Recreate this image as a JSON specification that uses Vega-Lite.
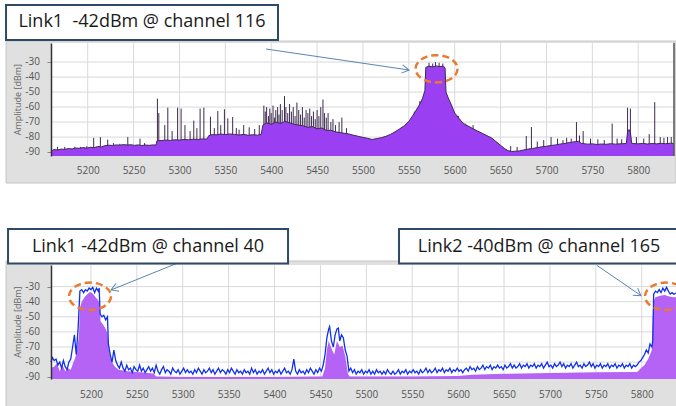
{
  "$schema": "https://vega.github.io/schema/vega-lite/v6.json",
  "background": "white",
  "padding": {"left": 5, "top": 4, "right": 0, "bottom": 0},
  "config": {"view": {"stroke": null}, "font": "Open Sans", "concat": {"spacing": 44}},
  "resolve": {"scale": {"x": "independent", "y": "independent"}},
  "datasets": {
    "xticks": [{"v":5200},{"v":5250},{"v":5300},{"v":5350},{"v":5400},{"v":5450},{"v":5500},{"v":5550},{"v":5600},{"v":5650},{"v":5700},{"v":5750},{"v":5800}],
    "yticks": [{"v":-30,"t":"-30"},{"v":-40,"t":"-40"},{"v":-50,"t":"-50"},{"v":-60,"t":"-60"},{"v":-70,"t":"-70"},{"v":-80,"t":"-80"},{"v":-90,"t":"-90"}],
    "topSpec": [
      {"f":5160,"a":-89.5},{"f":5163,"a":-88.3},{"f":5167,"a":-88.6},{"f":5171,"a":-88},{"f":5175,"a":-88.2},{"f":5179,"a":-87.6},{"f":5183,"a":-87.9},{"f":5187,"a":-87.3},{"f":5191,"a":-87.5},{"f":5195,"a":-87},{"f":5199,"a":-87.4},{"f":5203,"a":-86.8},{"f":5207,"a":-87},{"f":5211,"a":-86.3},{"f":5215,"a":-86.5},{"f":5219,"a":-85.7},{"f":5223,"a":-85.4},{"f":5227,"a":-85.6},{"f":5231,"a":-85.2},{"f":5235,"a":-85.4},{"f":5239,"a":-85},{"f":5243,"a":-85.3},{"f":5247,"a":-85.1},{"f":5251,"a":-85.5},{"f":5255,"a":-85.2},{"f":5259,"a":-85.6},{"f":5263,"a":-85.3},{"f":5267,"a":-85.5},{"f":5271,"a":-85.2},{"f":5274.5,"a":-85.3},
      {"f":5275.5,"a":-82.5},{"f":5280,"a":-82.3},{"f":5285,"a":-82},{"f":5290,"a":-82.2},{"f":5295,"a":-81.8},{"f":5300,"a":-82},{"f":5305,"a":-81.6},{"f":5310,"a":-81.8},{"f":5315,"a":-81.4},{"f":5320,"a":-81.6},{"f":5325,"a":-81.2},{"f":5330,"a":-81.3},
      {"f":5332,"a":-79},{"f":5336,"a":-78.3},{"f":5340,"a":-78.5},{"f":5345,"a":-78},{"f":5350,"a":-78.3},{"f":5355,"a":-77.9},{"f":5360,"a":-78.2},{"f":5365,"a":-78.6},{"f":5370,"a":-78.2},{"f":5375,"a":-78.8},{"f":5380,"a":-78.4},{"f":5385,"a":-78.7},{"f":5389,"a":-78.2},
      {"f":5391,"a":-72},{"f":5395,"a":-70.5},{"f":5400,"a":-71.5},{"f":5405,"a":-70},{"f":5410,"a":-71},{"f":5415,"a":-69.5},{"f":5420,"a":-70.5},{"f":5425,"a":-71.5},{"f":5430,"a":-72},{"f":5435,"a":-72.5},{"f":5440,"a":-73.5},{"f":5445,"a":-73},{"f":5450,"a":-74.5},{"f":5455,"a":-74},{"f":5460,"a":-75.5},{"f":5465,"a":-75.5},{"f":5470,"a":-76.5},{"f":5475,"a":-77},{"f":5480,"a":-77.5},{"f":5485,"a":-78},{"f":5490,"a":-78.8},{"f":5495,"a":-79.5},{"f":5500,"a":-80.2},{"f":5505,"a":-80.8},{"f":5510,"a":-81.6},{"f":5515,"a":-81},{"f":5520,"a":-80.4},{"f":5525,"a":-79.5},{"f":5530,"a":-78.2},{"f":5535,"a":-76.5},{"f":5540,"a":-74.5},{"f":5545,"a":-72.5},{"f":5550,"a":-69.5},{"f":5554,"a":-66},{"f":5558,"a":-62},{"f":5562,"a":-58},{"f":5565,"a":-54},{"f":5567.5,"a":-49},
      {"f":5568.5,"a":-33.5},{"f":5572,"a":-32.8},{"f":5576,"a":-33.2},{"f":5580,"a":-32.6},{"f":5584,"a":-33},{"f":5588,"a":-32.8},{"f":5589.5,"a":-34},
      {"f":5590.5,"a":-50},{"f":5593,"a":-54},{"f":5596,"a":-58},{"f":5600,"a":-64},{"f":5604,"a":-67},{"f":5608,"a":-70},{"f":5612,"a":-72},{"f":5616,"a":-73},{"f":5620,"a":-74.5},{"f":5625,"a":-76},{"f":5630,"a":-77.5},{"f":5635,"a":-79},{"f":5640,"a":-80.5},{"f":5645,"a":-83},{"f":5650,"a":-85.5},{"f":5654,"a":-87.5},{"f":5658,"a":-89},{"f":5662,"a":-89.6},{"f":5666,"a":-89.4},{"f":5670,"a":-89.3},{"f":5675,"a":-88.6},{"f":5680,"a":-88},{"f":5685,"a":-87.6},{"f":5690,"a":-87},{"f":5695,"a":-86.5},{"f":5700,"a":-86.1},{"f":5705,"a":-85.6},{"f":5710,"a":-85.2},{"f":5715,"a":-84.6},{"f":5720,"a":-84.3},{"f":5725,"a":-83.6},{"f":5730,"a":-83.2},{"f":5735,"a":-82.8},{"f":5738,"a":-84.2},{"f":5745,"a":-84.7},{"f":5750,"a":-84.5},{"f":5755,"a":-84.9},{"f":5760,"a":-84.6},{"f":5765,"a":-84.8},{"f":5770,"a":-84.4},{"f":5775,"a":-84.7},{"f":5780,"a":-84.5},{"f":5787,"a":-84.3},{"f":5788.5,"a":-76},{"f":5790,"a":-75},{"f":5791.5,"a":-77},{"f":5793,"a":-84.3},{"f":5800,"a":-84.5},{"f":5805,"a":-84.2},{"f":5810,"a":-84.6},{"f":5815,"a":-84.3},{"f":5820,"a":-84.5},{"f":5825,"a":-84.2},{"f":5830,"a":-84.4},{"f":5835,"a":-84.1},{"f":5839,"a":-84.3}
    ],
    "topSpikes": [
      {"f":5167,"t":-86.5},{"f":5175,"t":-86.5},{"f":5186,"t":-86.5},{"f":5192,"t":-86.5},{"f":5199,"t":-86},{"f":5206.5,"t":-80.5},{"f":5213.8,"t":-80},{"f":5221.8,"t":-81.7},{"f":5228,"t":-84},{"f":5235,"t":-84.5},{"f":5243.7,"t":-80},{"f":5257,"t":-81},{"f":5262,"t":-84},
      {"f":5276,"t":-54.4},{"f":5277.5,"t":-64},{"f":5284,"t":-72},{"f":5287.3,"t":-60.4},{"f":5292,"t":-76},{"f":5298,"t":-60.4},{"f":5301.8,"t":-61},{"f":5306,"t":-72},{"f":5311.6,"t":-76},{"f":5315.6,"t":-69},{"f":5319,"t":-74},{"f":5322.5,"t":-61},{"f":5326.6,"t":-60.4},
      {"f":5333.8,"t":-66.4},{"f":5338,"t":-74},{"f":5341.8,"t":-62.7},{"f":5345,"t":-72},{"f":5349,"t":-61.5},{"f":5352.7,"t":-67.5},{"f":5358,"t":-66.6},{"f":5362,"t":-74},{"f":5365,"t":-75},{"f":5370,"t":-72},{"f":5376,"t":-73.5},{"f":5382,"t":-74.6},{"f":5387,"t":-72},
      {"f":5392,"t":-59},{"f":5393.5,"t":-63},{"f":5395,"t":-60},{"f":5397,"t":-66},{"f":5398.5,"t":-61},{"f":5400,"t":-64},{"f":5402,"t":-59},{"f":5403.5,"t":-67},{"f":5405,"t":-62},{"f":5407,"t":-60},{"f":5408.5,"t":-65},{"f":5410,"t":-58},{"f":5412,"t":-62},{"f":5414.5,"t":-52.7},{"f":5416,"t":-60},{"f":5418,"t":-64},{"f":5420,"t":-58},{"f":5422,"t":-63},{"f":5424,"t":-60},{"f":5426,"t":-66},{"f":5428,"t":-57},{"f":5430,"t":-62},{"f":5432,"t":-65},{"f":5434,"t":-60},{"f":5436,"t":-67},{"f":5438,"t":-62},{"f":5440,"t":-64},{"f":5442,"t":-61},{"f":5444,"t":-66},{"f":5446,"t":-63},{"f":5448,"t":-68},{"f":5450,"t":-62},{"f":5452,"t":-66},{"f":5454,"t":-60},{"f":5456.4,"t":-55},{"f":5458,"t":-64},{"f":5460,"t":-67},{"f":5462,"t":-64},{"f":5465,"t":-70},{"f":5467.3,"t":-68},{"f":5470,"t":-72},{"f":5474,"t":-70},{"f":5477,"t":-67},{"f":5482,"t":-74},
      {"f":5556,"t":-63},{"f":5562,"t":-56},{"f":5566,"t":-54},{"f":5572,"t":-30.5},{"f":5576,"t":-31},{"f":5579,"t":-30},{"f":5583,"t":-30.5},{"f":5587,"t":-31},{"f":5594,"t":-58},{"f":5596,"t":-60},{"f":5604,"t":-66},{"f":5612,"t":-71},{"f":5620,"t":-72},
      {"f":5661,"t":-86},{"f":5668,"t":-86.5},{"f":5678,"t":-79.3},{"f":5683.6,"t":-73.3},{"f":5690,"t":-83},{"f":5697,"t":-82},{"f":5705,"t":-80},{"f":5712,"t":-81},{"f":5718,"t":-82},{"f":5722,"t":-80.5},{"f":5727,"t":-81},{"f":5732.7,"t":-70},{"f":5736,"t":-79},{"f":5740,"t":-76},{"f":5748,"t":-81},{"f":5756,"t":-81.5},{"f":5763,"t":-82},{"f":5771.6,"t":-71},{"f":5777,"t":-81},{"f":5782,"t":-81.5},{"f":5788.4,"t":-60.4},{"f":5791.5,"t":-61},{"f":5798,"t":-80},{"f":5806,"t":-81},{"f":5812,"t":-78},{"f":5818,"t":-56.7},{"f":5824,"t":-80},{"f":5828,"t":-80.5},{"f":5832,"t":-80},{"f":5836,"t":-80}
    ],
    "topBox": [{"f1":5111,"f2":5407.4,"a1":8,"a2":-15.3,"fc":5259.2,"ac":-3.6,"label":"Link1\u00a0 -42dBm @ channel 116"}],
    "topArrow": [{"f1":5394.3,"a1":-21.3,"f2":5550.2,"a2":-35.3,"ang":8.35}],
    "topRing": [{"f":5580.2,"a":-34.5}],
    "botSpec": [
      {"f":5156.5,"a":-84},{"f":5160,"a":-83},{"f":5163,"a":-81},{"f":5166,"a":-86},{"f":5169,"a":-82},{"f":5172,"a":-86},{"f":5175,"a":-84},{"f":5178,"a":-85},{"f":5181,"a":-80},{"f":5183,"a":-77},{"f":5185,"a":-72},{"f":5187,"a":-62},{"f":5188,"a":-44},{"f":5190,"a":-40},{"f":5193,"a":-37},{"f":5196,"a":-35},{"f":5199,"a":-33.5},{"f":5202,"a":-34.5},{"f":5205,"a":-37},{"f":5208,"a":-39},{"f":5209.5,"a":-42},{"f":5210.5,"a":-53},{"f":5213,"a":-55},{"f":5216,"a":-58},{"f":5218,"a":-61},{"f":5219.5,"a":-72},{"f":5222,"a":-79},{"f":5226,"a":-83},{"f":5230,"a":-85},{"f":5240,"a":-86},{"f":5250,"a":-86.5},{"f":5260,"a":-87},{"f":5268,"a":-87.5},{"f":5271,"a":-89.5},{"f":5300,"a":-89.8},{"f":5400,"a":-89.8},{"f":5452,"a":-89.5},{"f":5455,"a":-84},{"f":5457,"a":-72},{"f":5459,"a":-66},{"f":5462,"a":-71},{"f":5465,"a":-75},{"f":5468,"a":-66},{"f":5471,"a":-70},{"f":5474,"a":-69},{"f":5477,"a":-76},{"f":5480,"a":-88},{"f":5482,"a":-89.6},{"f":5550,"a":-89.6},{"f":5600,"a":-89.2},{"f":5615,"a":-88.4},{"f":5650,"a":-87.8},{"f":5700,"a":-87.2},{"f":5750,"a":-86.8},{"f":5795,"a":-86.6},{"f":5799,"a":-84},{"f":5803,"a":-82},{"f":5807,"a":-78},{"f":5811,"a":-72},{"f":5812.5,"a":-40},{"f":5815,"a":-37},{"f":5820,"a":-36},{"f":5825,"a":-35.5},{"f":5830,"a":-36.5},{"f":5835,"a":-37},{"f":5838.4,"a":-37}
    ],
    "botBlue": [
      {"f":5156.5,"b":-80},{"f":5158,"b":-77},{"f":5160,"b":-79},{"f":5162,"b":-78},{"f":5164,"b":-82},{"f":5166,"b":-80},{"f":5168,"b":-84},{"f":5170,"b":-79},{"f":5172,"b":-83},{"f":5174,"b":-85},{"f":5176,"b":-80},{"f":5178,"b":-78},{"f":5180,"b":-70},{"f":5182,"b":-62},{"f":5184,"b":-75},{"f":5186,"b":-58},{"f":5187,"b":-45},{"f":5188,"b":-33},{"f":5190,"b":-32},{"f":5192,"b":-34},{"f":5194,"b":-32},{"f":5196,"b":-33},{"f":5198,"b":-31},{"f":5200,"b":-32},{"f":5202,"b":-30.5},{"f":5204,"b":-34},{"f":5206,"b":-31},{"f":5208,"b":-33},{"f":5209,"b":-31},{"f":5210,"b":-48},{"f":5212,"b":-50},{"f":5214,"b":-49},{"f":5216,"b":-52},{"f":5218,"b":-50},{"f":5219,"b":-68},{"f":5221,"b":-75},{"f":5223,"b":-80},{"f":5225,"b":-72},{"f":5227,"b":-79},{"f":5229,"b":-82},{"f":5231,"b":-84},{"f":5233,"b":-80},{"f":5235,"b":-84},{"f":5237,"b":-86},{"f":5239,"b":-82},{"f":5241,"b":-85},{"f":5243,"b":-84},{"f":5245,"b":-87},{"f":5247,"b":-83},{"f":5249,"b":-85},{"f":5251,"b":-86},{"f":5253,"b":-82},{"f":5255,"b":-86},{"f":5257,"b":-84},{"f":5259,"b":-87},{"f":5261,"b":-85},{"f":5263,"b":-83},{"f":5265,"b":-86},{"f":5267,"b":-84},{"f":5269,"b":-87},{"f":5271,"b":-82},{"f":5273,"b":-86},{"f":5275,"b":-88},{"f":5277,"b":-85},{"f":5279,"b":-83},{"f":5281,"b":-87},{"f":5283,"b":-85},{"f":5285,"b":-86},{"f":5287,"b":-88},{"f":5289,"b":-84},{"f":5291,"b":-86},{"f":5293,"b":-87},{"f":5295,"b":-85},{"f":5297,"b":-88},{"f":5299,"b":-86},{"f":5301,"b":-84},{"f":5303,"b":-87},{"f":5305,"b":-85},{"f":5307,"b":-87},{"f":5309,"b":-86},{"f":5311,"b":-88},{"f":5313,"b":-85},{"f":5315,"b":-87},{"f":5317,"b":-84},{"f":5319,"b":-86},{"f":5321,"b":-88},{"f":5323,"b":-85},{"f":5325,"b":-87},{"f":5327,"b":-86},{"f":5329,"b":-84},{"f":5331,"b":-87},{"f":5333,"b":-85},{"f":5335,"b":-88},{"f":5337,"b":-86},{"f":5339,"b":-84},{"f":5341,"b":-87},{"f":5343,"b":-85},{"f":5345,"b":-86},{"f":5347,"b":-88},{"f":5349,"b":-85},{"f":5351,"b":-87},{"f":5353,"b":-84},{"f":5355,"b":-86},{"f":5357,"b":-88},{"f":5359,"b":-85},{"f":5361,"b":-87},{"f":5363,"b":-86},{"f":5365,"b":-88},{"f":5367,"b":-85},{"f":5369,"b":-87},{"f":5371,"b":-86},{"f":5373,"b":-88},{"f":5375,"b":-84},{"f":5377,"b":-87},{"f":5379,"b":-85},{"f":5381,"b":-88},{"f":5383,"b":-86},{"f":5385,"b":-87},{"f":5387,"b":-85},{"f":5389,"b":-88},{"f":5391,"b":-86},{"f":5393,"b":-84},{"f":5395,"b":-87},{"f":5397,"b":-85},{"f":5399,"b":-88},{"f":5401,"b":-86},{"f":5403,"b":-87},{"f":5405,"b":-85},{"f":5407,"b":-88},{"f":5409,"b":-86},{"f":5411,"b":-84},{"f":5413,"b":-87},{"f":5415,"b":-86},{"f":5417,"b":-88},{"f":5419,"b":-85},{"f":5421,"b":-78},{"f":5423,"b":-86},{"f":5425,"b":-88},{"f":5427,"b":-85},{"f":5429,"b":-87},{"f":5431,"b":-86},{"f":5433,"b":-88},{"f":5435,"b":-85},{"f":5437,"b":-87},{"f":5439,"b":-84},{"f":5441,"b":-86},{"f":5443,"b":-88},{"f":5445,"b":-85},{"f":5447,"b":-87},{"f":5449,"b":-84},{"f":5451,"b":-86},{"f":5453,"b":-82},{"f":5455,"b":-75},{"f":5457,"b":-64},{"f":5459,"b":-58},{"f":5460,"b":-56.5},{"f":5462,"b":-66},{"f":5464,"b":-70},{"f":5466,"b":-62},{"f":5468,"b":-58},{"f":5469.5,"b":-57.5},{"f":5471,"b":-66},{"f":5473,"b":-62},{"f":5475,"b":-64},{"f":5477,"b":-72},{"f":5479,"b":-76},{"f":5481,"b":-86},{"f":5483,"b":-84},{"f":5485,"b":-87},{"f":5487,"b":-85},{"f":5489,"b":-88},{"f":5491,"b":-86},{"f":5493,"b":-87},{"f":5495,"b":-85},{"f":5497,"b":-88},{"f":5499,"b":-86},{"f":5501,"b":-87},{"f":5503,"b":-85},{"f":5505,"b":-88},{"f":5507,"b":-86},{"f":5509,"b":-88},{"f":5511,"b":-85},{"f":5513,"b":-87},{"f":5515,"b":-86},{"f":5517,"b":-88},{"f":5519,"b":-86},{"f":5521,"b":-88},{"f":5523,"b":-85},{"f":5525,"b":-87},{"f":5527,"b":-88},{"f":5529,"b":-86},{"f":5531,"b":-88},{"f":5533,"b":-87},{"f":5535,"b":-85},{"f":5537,"b":-88},{"f":5539,"b":-86},{"f":5541,"b":-87},{"f":5543,"b":-85},{"f":5545,"b":-88},{"f":5547,"b":-86},{"f":5549,"b":-87},{"f":5551,"b":-85},{"f":5553,"b":-87},{"f":5555,"b":-86},{"f":5557,"b":-88},{"f":5559,"b":-85},{"f":5561,"b":-87},{"f":5563,"b":-86},{"f":5565,"b":-84},{"f":5567,"b":-87},{"f":5569,"b":-85},{"f":5571,"b":-87},{"f":5573,"b":-86},{"f":5575,"b":-84},{"f":5577,"b":-87},{"f":5579,"b":-85},{"f":5581,"b":-86},{"f":5583,"b":-84},{"f":5585,"b":-87},{"f":5587,"b":-85},{"f":5589,"b":-86},{"f":5591,"b":-84},{"f":5593,"b":-87},{"f":5595,"b":-85},{"f":5597,"b":-86},{"f":5599,"b":-84},{"f":5601,"b":-86},{"f":5603,"b":-85},{"f":5605,"b":-87},{"f":5607,"b":-85},{"f":5609,"b":-84},{"f":5611,"b":-86},{"f":5613,"b":-83},{"f":5615,"b":-85},{"f":5617,"b":-84},{"f":5619,"b":-86},{"f":5621,"b":-83},{"f":5623,"b":-85},{"f":5625,"b":-84},{"f":5627,"b":-82},{"f":5629,"b":-85},{"f":5631,"b":-83},{"f":5633,"b":-84},{"f":5635,"b":-82},{"f":5637,"b":-85},{"f":5639,"b":-83},{"f":5641,"b":-84},{"f":5643,"b":-82},{"f":5645,"b":-84},{"f":5647,"b":-83},{"f":5649,"b":-85},{"f":5651,"b":-82},{"f":5653,"b":-84},{"f":5655,"b":-83},{"f":5657,"b":-81},{"f":5659,"b":-84},{"f":5661,"b":-82},{"f":5663,"b":-84},{"f":5665,"b":-83},{"f":5667,"b":-81},{"f":5669,"b":-84},{"f":5671,"b":-82},{"f":5673,"b":-83},{"f":5675,"b":-81},{"f":5677,"b":-84},{"f":5679,"b":-82},{"f":5681,"b":-83},{"f":5683,"b":-81},{"f":5685,"b":-84},{"f":5687,"b":-82},{"f":5689,"b":-83},{"f":5691,"b":-81},{"f":5693,"b":-84},{"f":5695,"b":-82},{"f":5697,"b":-80},{"f":5699,"b":-83},{"f":5701,"b":-82},{"f":5703,"b":-84},{"f":5705,"b":-81},{"f":5707,"b":-83},{"f":5709,"b":-82},{"f":5711,"b":-80},{"f":5713,"b":-83},{"f":5715,"b":-81},{"f":5717,"b":-84},{"f":5719,"b":-82},{"f":5721,"b":-83},{"f":5723,"b":-81},{"f":5725,"b":-84},{"f":5727,"b":-82},{"f":5729,"b":-80},{"f":5731,"b":-83},{"f":5733,"b":-82},{"f":5735,"b":-84},{"f":5737,"b":-81},{"f":5739,"b":-83},{"f":5741,"b":-82},{"f":5743,"b":-80},{"f":5745,"b":-83},{"f":5747,"b":-81},{"f":5749,"b":-84},{"f":5751,"b":-82},{"f":5753,"b":-83},{"f":5755,"b":-81},{"f":5757,"b":-84},{"f":5759,"b":-82},{"f":5761,"b":-83},{"f":5763,"b":-81},{"f":5765,"b":-84},{"f":5767,"b":-82},{"f":5769,"b":-83},{"f":5771,"b":-81},{"f":5773,"b":-84},{"f":5775,"b":-82},{"f":5777,"b":-83},{"f":5779,"b":-81},{"f":5781,"b":-84},{"f":5783,"b":-82},{"f":5785,"b":-83},{"f":5787,"b":-81},{"f":5789,"b":-84},{"f":5791,"b":-82},{"f":5793,"b":-83},{"f":5795,"b":-82},{"f":5797,"b":-80},{"f":5799,"b":-79},{"f":5801,"b":-77},{"f":5803,"b":-75},{"f":5805,"b":-72},{"f":5807,"b":-74},{"f":5809,"b":-68},{"f":5811,"b":-70},{"f":5812,"b":-66},{"f":5813,"b":-35},{"f":5815,"b":-33},{"f":5817,"b":-34},{"f":5819,"b":-32},{"f":5821,"b":-34},{"f":5823,"b":-31},{"f":5825,"b":-33},{"f":5827,"b":-30.5},{"f":5829,"b":-33},{"f":5831,"b":-35},{"f":5833,"b":-34},{"f":5835,"b":-35},{"f":5838.4,"b":-34}
    ],
    "botBoxes": [
      {"f1":5109.7,"f2":5414.7,"a1":8.1,"a2":-14.7,"fc":5262.2,"ac":-3.45,"label":"Link1 -42dBm @ channel 40"},
      {"f1":5535.6,"f2":5845,"a1":8.1,"a2":-14.7,"fc":5688.1,"ac":-3.45,"label":"Link2 -40dBm @ channel 165"}
    ],
    "botArrows": [
      {"f1":5294.5,"a1":-14.4,"f2":5221.9,"a2":-32.25,"ang":158.2},
      {"f1":5751.3,"a1":-16,"f2":5799.2,"a2":-36,"ang":34.5}
    ],
    "botRings": [{"f":5199,"a":-36.4},{"f":5826.4,"a":-36.4}]
  },
  "vconcat": [
    {
      "width": 623,
      "height": 113,
      "layer": [
        {
          "data": {"values": [{}]},
          "mark": {"type": "rect", "fill": "#e0e0e0", "stroke": "#c6c6c6", "strokeWidth": 1, "clip": false},
          "encoding": {
            "x": {"datum": 5111, "type": "quantitative",
              "scale": {"domain": [5160, 5839], "nice": false, "zero": false},
              "axis": {"values": [5200,5250,5300,5350,5400,5450,5500,5550,5600,5650,5700,5750,5800], "format": "d", "grid": false, "ticks": false, "domain": false, "labelFontSize": 10, "labelColor": "#555", "labelPadding": 9, "labelOverlap": false, "title": null, "zindex": 1}},
            "x2": {"datum": 5841},
            "y": {"datum": -16, "type": "quantitative",
              "scale": {"domain": [-92.6, -17.3], "nice": false, "zero": false},
              "axis": {"values": [-90,-80,-70,-60,-50,-40,-30], "labels": false, "grid": false, "domain": true, "domainColor": "#333", "domainWidth": 1.5, "ticks": true, "tickSize": 4, "tickColor": "#888", "title": null, "zindex": 1}},
            "y2": {"datum": -110.6}
          }
        },
        {
          "data": {"values": [{}]},
          "mark": {"type": "rect", "fill": "white"},
          "encoding": {"x": {"datum": 5160, "type": "quantitative"}, "x2": {"datum": 5839}, "y": {"datum": -17.3, "type": "quantitative"}, "y2": {"datum": -92.6}}
        },
        {
          "data": {"name": "xticks"},
          "mark": {"type": "rule", "color": "#d9d9d9", "strokeWidth": 1},
          "encoding": {"x": {"field": "v", "type": "quantitative"}}
        },
        {
          "data": {"name": "yticks"},
          "mark": {"type": "rule", "color": "#d9d9d9", "strokeWidth": 1},
          "encoding": {"y": {"field": "v", "type": "quantitative"}}
        },
        {
          "data": {"name": "yticks"},
          "mark": {"type": "text", "align": "right", "baseline": "middle", "fontSize": 10, "color": "#555", "font": "Open Sans", "clip": false},
          "encoding": {"x": {"datum": 5148, "type": "quantitative"}, "y": {"field": "v", "type": "quantitative"}, "text": {"field": "t"}}
        },
        {
          "data": {"values": [{"t": "Amplitude [dBm]"}]},
          "mark": {"type": "text", "align": "center", "baseline": "middle", "angle": 270, "fontSize": 9, "color": "#666", "font": "Open Sans", "clip": false},
          "encoding": {"x": {"datum": 5124, "type": "quantitative"}, "y": {"datum": -55, "type": "quantitative"}, "text": {"field": "t"}}
        },
        {
          "data": {"name": "topSpikes"},
          "mark": {"type": "rule", "color": "#3d2b4f", "strokeWidth": 1},
          "encoding": {"x": {"field": "f", "type": "quantitative"}, "y": {"field": "t", "type": "quantitative"}, "y2": {"datum": -92.6}}
        },
        {
          "data": {"name": "topSpec"},
          "mark": {"type": "area", "color": "#9a40f2", "opacity": 1},
          "encoding": {"x": {"field": "f", "type": "quantitative"}, "y": {"field": "a", "type": "quantitative"}, "y2": {"datum": -92.6}}
        },
        {
          "data": {"name": "topSpec"},
          "mark": {"type": "line", "color": "#3d2b4f", "strokeWidth": 1},
          "encoding": {"x": {"field": "f", "type": "quantitative"}, "y": {"field": "a", "type": "quantitative"}}
        },
        {
          "data": {"values": [{}]},
          "mark": {"type": "rule", "color": "#555", "strokeWidth": 1.5},
          "encoding": {"x": {"datum": 5839, "type": "quantitative"}}
        },
        {
          "data": {"name": "topRing"},
          "mark": {"type": "point", "shape": "M1,0C1,0.359 0.552,0.65 0,0.65C-0.552,0.65 -1,0.359 -1,0C-1,-0.359 -0.552,-0.65 0,-0.65C0.552,-0.65 1,-0.359 1,0Z", "size": 1764, "filled": false, "stroke": "#ec7a2c", "strokeWidth": 2.5, "strokeDash": [7, 4], "opacity": 1, "clip": false},
          "encoding": {"x": {"field": "f", "type": "quantitative"}, "y": {"field": "a", "type": "quantitative"}}
        },
        {
          "data": {"name": "topArrow"},
          "mark": {"type": "rule", "color": "#5b84b6", "strokeWidth": 1, "clip": false},
          "encoding": {"x": {"field": "f1", "type": "quantitative"}, "y": {"field": "a1", "type": "quantitative"}, "x2": {"field": "f2"}, "y2": {"field": "a2"}}
        },
        {
          "data": {"name": "topArrow"},
          "mark": {"type": "point", "shape": "M-1,-0.6L0,0L-1,0.6", "size": 196, "filled": false, "stroke": "#5b84b6", "strokeWidth": 1, "opacity": 1, "clip": false},
          "encoding": {"x": {"field": "f2", "type": "quantitative"}, "y": {"field": "a2", "type": "quantitative"}, "angle": {"field": "ang", "type": "quantitative", "scale": null}}
        },
        {
          "data": {"name": "topBox"},
          "mark": {"type": "rect", "fill": "white", "stroke": "#2e4a66", "strokeWidth": 2, "clip": false},
          "encoding": {"x": {"field": "f1", "type": "quantitative"}, "x2": {"field": "f2"}, "y": {"field": "a1", "type": "quantitative"}, "y2": {"field": "a2"}}
        },
        {
          "data": {"name": "topBox"},
          "mark": {"type": "text", "font": "Open Sans", "fontSize": 18, "color": "#1a1a1a", "align": "center", "baseline": "middle", "clip": false},
          "encoding": {"x": {"field": "fc", "type": "quantitative"}, "y": {"field": "ac", "type": "quantitative"}, "text": {"field": "label"}}
        }
      ]
    },
    {
      "width": 626,
      "height": 114,
      "layer": [
        {
          "data": {"values": [{}]},
          "mark": {"type": "rect", "fill": "#e0e0e0", "stroke": "#c6c6c6", "strokeWidth": 1, "clip": false},
          "encoding": {
            "x": {"datum": 5107.5, "type": "quantitative",
              "scale": {"domain": [5156.5, 5838.4], "nice": false, "zero": false},
              "axis": {"values": [5200,5250,5300,5350,5400,5450,5500,5550,5600,5650,5700,5750,5800], "format": "d", "grid": false, "ticks": false, "domain": false, "labelFontSize": 10, "labelColor": "#555", "labelPadding": 10, "labelOverlap": false, "title": null, "zindex": 1}},
            "x2": {"datum": 5845},
            "y": {"datum": -13.05, "type": "quantitative",
              "scale": {"domain": [-91.2, -15.7], "nice": false, "zero": false},
              "axis": {"values": [-90,-80,-70,-60,-50,-40,-30], "labels": false, "grid": false, "domain": true, "domainColor": "#333", "domainWidth": 1.5, "ticks": true, "tickSize": 4, "tickColor": "#888", "title": null, "zindex": 1}},
            "y2": {"datum": -109.7}
          }
        },
        {
          "data": {"values": [{}]},
          "mark": {"type": "rect", "fill": "white"},
          "encoding": {"x": {"datum": 5156.5, "type": "quantitative"}, "x2": {"datum": 5838.4}, "y": {"datum": -15.7, "type": "quantitative"}, "y2": {"datum": -91.2}}
        },
        {
          "data": {"name": "xticks"},
          "mark": {"type": "rule", "color": "#d9d9d9", "strokeWidth": 1},
          "encoding": {"x": {"field": "v", "type": "quantitative"}}
        },
        {
          "data": {"name": "yticks"},
          "mark": {"type": "rule", "color": "#d9d9d9", "strokeWidth": 1},
          "encoding": {"y": {"field": "v", "type": "quantitative"}}
        },
        {
          "data": {"name": "yticks"},
          "mark": {"type": "text", "align": "right", "baseline": "middle", "fontSize": 10, "color": "#555", "font": "Open Sans", "clip": false},
          "encoding": {"x": {"datum": 5144.5, "type": "quantitative"}, "y": {"field": "v", "type": "quantitative"}, "text": {"field": "t"}}
        },
        {
          "data": {"values": [{"t": "Amplitude [dBm]"}]},
          "mark": {"type": "text", "align": "center", "baseline": "middle", "angle": 270, "fontSize": 9, "color": "#666", "font": "Open Sans", "clip": false},
          "encoding": {"x": {"datum": 5120.6, "type": "quantitative"}, "y": {"datum": -53.5, "type": "quantitative"}, "text": {"field": "t"}}
        },
        {
          "data": {"name": "botSpec"},
          "mark": {"type": "area", "color": "#b563f5", "opacity": 1},
          "encoding": {"x": {"field": "f", "type": "quantitative"}, "y": {"field": "a", "type": "quantitative"}, "y2": {"datum": -91.2}}
        },
        {
          "data": {"name": "botBlue"},
          "mark": {"type": "line", "color": "#1030ee", "strokeWidth": 1.3},
          "encoding": {"x": {"field": "f", "type": "quantitative"}, "y": {"field": "b", "type": "quantitative"}}
        },
        {
          "data": {"name": "botRings"},
          "mark": {"type": "point", "shape": "M1,0C1,0.359 0.552,0.65 0,0.65C-0.552,0.65 -1,0.359 -1,0C-1,-0.359 -0.552,-0.65 0,-0.65C0.552,-0.65 1,-0.359 1,0Z", "size": 1764, "filled": false, "stroke": "#ec7a2c", "strokeWidth": 2.5, "strokeDash": [7, 4], "opacity": 1, "clip": false},
          "encoding": {"x": {"field": "f", "type": "quantitative"}, "y": {"field": "a", "type": "quantitative"}}
        },
        {
          "data": {"name": "botArrows"},
          "mark": {"type": "rule", "color": "#5b84b6", "strokeWidth": 1, "clip": false},
          "encoding": {"x": {"field": "f1", "type": "quantitative"}, "y": {"field": "a1", "type": "quantitative"}, "x2": {"field": "f2"}, "y2": {"field": "a2"}}
        },
        {
          "data": {"name": "botArrows"},
          "mark": {"type": "point", "shape": "M-1,-0.6L0,0L-1,0.6", "size": 196, "filled": false, "stroke": "#5b84b6", "strokeWidth": 1, "opacity": 1, "clip": false},
          "encoding": {"x": {"field": "f2", "type": "quantitative"}, "y": {"field": "a2", "type": "quantitative"}, "angle": {"field": "ang", "type": "quantitative", "scale": null}}
        },
        {
          "data": {"name": "botBoxes"},
          "mark": {"type": "rect", "fill": "white", "stroke": "#2e4a66", "strokeWidth": 2, "clip": false},
          "encoding": {"x": {"field": "f1", "type": "quantitative"}, "x2": {"field": "f2"}, "y": {"field": "a1", "type": "quantitative"}, "y2": {"field": "a2"}}
        },
        {
          "data": {"name": "botBoxes"},
          "mark": {"type": "text", "font": "Open Sans", "fontSize": 18, "color": "#1a1a1a", "align": "center", "baseline": "middle", "clip": false},
          "encoding": {"x": {"field": "fc", "type": "quantitative"}, "y": {"field": "ac", "type": "quantitative"}, "text": {"field": "label"}}
        }
      ]
    }
  ]
}
